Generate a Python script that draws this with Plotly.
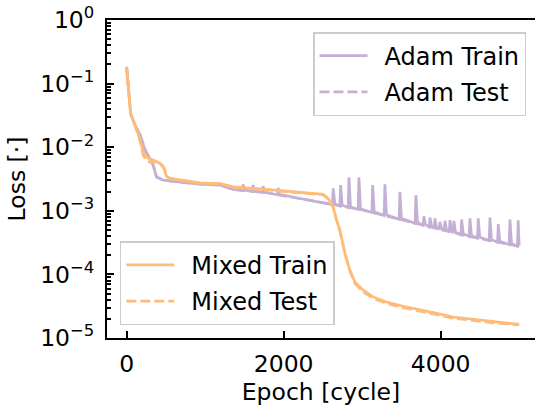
import plotly.graph_objects as go

# ---------------- data ----------------
adam_train_x = [0, 51, 106, 169, 233, 297, 339, 382, 466, 637, 934, 1188, 1358,
                1474, 1484, 1500, 1602, 1612, 1628, 1729, 1739, 1755, 1920, 1930, 1946,
                2208, 2548,
                2622, 2632, 2652, 2716, 2726, 2746, 2822, 2832, 2852, 2949, 2959, 2979,
                3124, 3134, 3154, 3280, 3290, 3310, 3471, 3481, 3501, 3675, 3685, 3705,
                3777, 3787, 3807, 3854, 3864, 3884, 3917, 3927, 3947, 3981, 3991, 4011,
                4045, 4055, 4075, 4109, 4119, 4139, 4159, 4169, 4189, 4258, 4268, 4288,
                4363, 4373, 4393, 4469, 4479, 4499, 4618, 4628, 4648, 4724, 4734, 4754,
                4873, 4883, 4903, 4978, 4988, 5000]
adam_train_y = [0.184, 0.034, 0.0223, 0.016, 0.0092, 0.0066, 0.0052, 0.0034, 0.00303, 0.00286, 0.00263, 0.00254, 0.00217,
                0.00209, 0.0026, 0.00212, 0.00202, 0.00255, 0.00204, 0.00195, 0.00245, 0.00197, 0.00179, 0.0023, 0.00181,
                0.00156, 0.0013,
                0.00125, 0.00225, 0.00128, 0.00119, 0.00254, 0.00122, 0.00113, 0.00335, 0.00116, 0.00105, 0.00335, 0.00108,
                0.00094, 0.00254, 0.00097, 0.000843, 0.00262, 0.00087, 0.000736, 0.00199, 0.00076, 0.000635, 0.00176, 0.00066,
                0.00059, 0.00082, 0.00061, 0.000558, 0.000785, 0.00058, 0.000535, 0.00076, 0.00055, 0.00051, 0.00067, 0.00053,
                0.000489, 0.000695, 0.000505, 0.000467, 0.00071, 0.00048, 0.000451, 0.000695, 0.000465, 0.00042, 0.00073, 0.000435,
                0.000394, 0.00076, 0.00041, 0.000371, 0.00076, 0.000385, 0.00034, 0.000785, 0.000352, 0.00032, 0.000617, 0.000332,
                0.000295, 0.00073, 0.000305, 0.000278, 0.00071, 0.000285]

adam_test_x = [0, 51, 106, 169, 233, 297, 339, 382, 466, 637, 934, 1188, 1358, 1783,
               2208, 2548, 2675, 3014, 3439, 3864, 4288, 4713, 5000]
adam_test_y = [0.184, 0.034, 0.0223, 0.016, 0.0092, 0.0066, 0.0052, 0.0034, 0.00303, 0.00286, 0.00263, 0.00254, 0.00217, 0.00192,
               0.00156, 0.0013, 0.00123, 0.00102, 0.00076, 0.000558, 0.000414, 0.000324, 0.000275]

mixed_train_x = [0, 51, 106, 160, 211, 275, 339, 424, 475, 510, 552, 721, 934, 1188, 1358, 1783,
                 2208, 2504, 2568, 2632, 2675, 2717, 2781, 2845, 2908, 3014, 3141, 3312, 3524,
                 3736, 3864, 4161, 4586, 5000]
mixed_train_y = [0.184, 0.034, 0.0223, 0.0146, 0.00847, 0.00667, 0.00627, 0.00556, 0.00463, 0.00342, 0.00323, 0.00303,
                 0.00275, 0.00269, 0.00238, 0.00217, 0.00195, 0.00181, 0.00156, 0.00115, 0.00071, 0.000495, 0.000213,
                 0.000116, 7.6e-5, 5.64e-5, 4.43e-5, 3.69e-5, 3.16e-5, 2.74e-5, 2.57e-5, 2.14e-5, 1.85e-5, 1.64e-5]

mixed_test_x = [0, 51, 106, 160, 211, 250, 300, 339, 424, 475, 510, 552, 721, 934, 1188, 1358, 1783,
                2208, 2504, 2568, 2632, 2675, 2717, 2781, 2845, 2908, 3014, 3141, 3312, 3524,
                3736, 3864, 4161, 4586, 5000]
mixed_test_y = [0.18, 0.033, 0.022, 0.0142, 0.0075, 0.0062, 0.0058, 0.0059, 0.0058, 0.0048, 0.0035, 0.0032, 0.00298,
                0.0027, 0.00265, 0.00233, 0.00213, 0.00192, 0.00178, 0.00154, 0.00112, 0.0007, 0.00048, 0.00021,
                0.000112, 7.2e-5, 5.3e-5, 4.2e-5, 3.5e-5, 3.0e-5, 2.65e-5, 2.5e-5, 2.05e-5, 1.78e-5, 1.6e-5]

x_tick_vals = [0, 2000, 4000]
x_tick_text = ["0", "2000", "4000"]
y_tick_vals = [1e-5, 1e-4, 1e-3, 1e-2, 1e-1, 1e0]
y_tick_text = ["10<sup>−5</sup>", "10<sup>−4</sup>", "10<sup>−3</sup>",
               "10<sup>−2</sup>", "10<sup>−1</sup>", "10<sup>0</sup>"]
y_minor_vals = [k * 10.0 ** d for d in range(-5, 0) for k in range(2, 10)]

PURPLE = "#c5b0d5"
ORANGE = "#ffbb78"
FONT = "DejaVu Sans"
FS = 23.5
LFS = 24
LW = 2.7
DASH = "10px,4px"
SP = "\u2002"

fig = go.Figure()
fig.add_trace(go.Scatter(x=adam_train_x, y=adam_train_y, mode="lines", name=SP + "Adam Train",
                         line=dict(color=PURPLE, width=LW), legend="legend", legendgroup="a1"))
fig.add_trace(go.Scatter(x=adam_test_x, y=adam_test_y, mode="lines", name=SP + "Adam Test",
                         line=dict(color=PURPLE, width=LW, dash=DASH), legend="legend", legendgroup="a2"))
fig.add_trace(go.Scatter(x=mixed_train_x, y=mixed_train_y, mode="lines", name=SP + "Mixed Train",
                         line=dict(color=ORANGE, width=LW), legend="legend2", legendgroup="m1"))
fig.add_trace(go.Scatter(x=mixed_test_x, y=mixed_test_y, mode="lines", name=SP + "Mixed Test",
                         line=dict(color=ORANGE, width=LW, dash=DASH), legend="legend2", legendgroup="m2"))

legend_common = dict(bgcolor="rgba(255,255,255,0.8)", bordercolor="#cccccc", borderwidth=1.5,
                     font=dict(family=FONT, size=LFS, color="black"), itemwidth=48,
                     tracegroupgap=2)

fig.update_layout(
    template="none",
    width=535, height=406,
    margin=dict(l=107, r=0, t=20, b=68, autoexpand=False),
    paper_bgcolor="white", plot_bgcolor="white",
    font=dict(family=FONT, size=FS, color="black"),
    legend=dict(x=0.979, y=0.962, xanchor="right", yanchor="top", **legend_common),
    legend2=dict(x=0.030, y=0.040, xanchor="left", yanchor="bottom", **legend_common),
    xaxis=dict(range=[-250, 5202], tickmode="array", tickvals=x_tick_vals, ticktext=x_tick_text,
               ticks="inside", ticklen=7, tickwidth=2, tickcolor="black", automargin=False,
               showline=True, linewidth=2, linecolor="black", mirror=True,
               showgrid=False, zeroline=False, ticklabelstandoff=4,
               tickfont=dict(family=FONT, size=FS),
               title=dict(text="Epoch [cycle]", font=dict(family=FONT, size=FS), standoff=4)),
    yaxis=dict(type="log", range=[-5, 0], tickmode="array", tickvals=y_tick_vals, ticktext=y_tick_text,
               ticks="inside", ticklen=7, tickwidth=2, tickcolor="black", automargin=False,
               minor=dict(tickmode="array", tickvals=y_minor_vals, ticks="inside", ticklen=4,
                          tickwidth=1.5, tickcolor="black", showgrid=False),
               showline=True, linewidth=2, linecolor="black", mirror=False,
               showgrid=False, zeroline=False, ticklabelstandoff=6,
               tickfont=dict(family=FONT, size=FS),
               title=dict(text="Loss [·]", font=dict(family=FONT, size=FS), standoff=8)),
)

fig.write_html("out.html", config={"displayModeBar": False},
               post_script="document.body.style.margin='0';document.body.style.overflow='hidden';")
